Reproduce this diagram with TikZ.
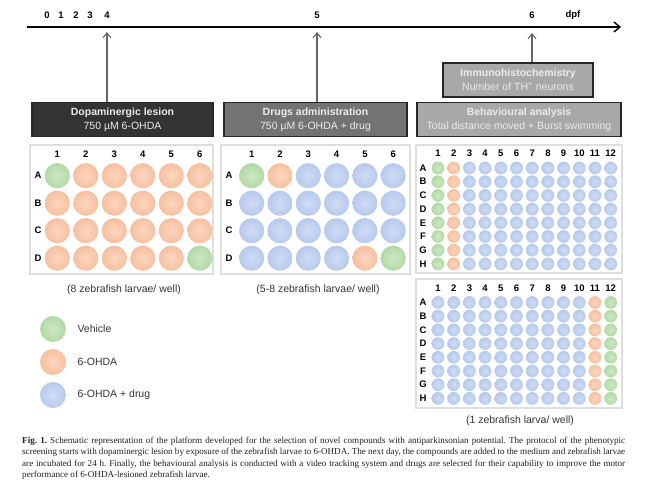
\documentclass[tikz,border=0pt]{standalone}
\usepackage{fontspec}
\setmainfont{Liberation Sans}
\newfontfamily\capfont{Liberation Serif}
\usetikzlibrary{arrows.meta,calc,positioning}

\definecolor{vehin}{HTML}{CDE8C4}
\definecolor{vehout}{HTML}{B3D9A6}
\definecolor{ohdain}{HTML}{FCD6BF}
\definecolor{ohdaout}{HTML}{F6C0A0}
\definecolor{drugin}{HTML}{D0DCF5}
\definecolor{drugout}{HTML}{B7C9EC}

\begin{document}
\begin{tikzpicture}[x=1pt,y=-1pt,font=\fontsize{10.5}{14}\selectfont]

\tikzset{
timeaxis/.style={line width=1.4pt,-{Straight Barb[length=6pt,width=10pt,line width=1.4pt]}},
dayarrow/.style={draw=black!60,line width=1.3pt,-{Straight Barb[length=5pt,width=8pt,line width=1.1pt]}},
daylab/.style={font=\fontsize{9.5}{10}\selectfont\bfseries},
stepbox/.style={draw=black!85,line width=1.6pt,minimum height=34,inner sep=0pt,align=center,text=white!92!black},
plate/.style={draw=black!13,line width=1.6pt,fill=white},
platelab/.style={font=\fontsize{9.5}{10}\selectfont\bfseries},
vehicle/.style={inner color=vehin,outer color=vehout},
ohda/.style={inner color=ohdain,outer color=ohdaout},
drug/.style={inner color=drugin,outer color=drugout},
note/.style={font=\fontsize{10.5}{12}\selectfont,text=black!80}
}

\useasboundingbox (0,0) rectangle (650,491);

% Time line
\coordinate (tstart) at (27,27);
\coordinate (tend) at (621,27);
\draw[timeaxis] (tstart) -- (tend);

\node[daylab] (d0) at (47,15) {0};
\node[daylab] (d1) at (61,15) {1};
\node[daylab] (d2) at (76,15) {2};
\node[daylab] (d3) at (90,15) {3};
\node[daylab] (d4) at (107,15) {4};
\node[daylab] (d5) at (317,15) {5};
\node[daylab] (d6) at (532,15) {6};
\node[daylab] (dpf) at (573,15) {dpf};

\coordinate (t4) at (107,32);
\coordinate (t5) at (317,32);
\coordinate (t6) at (532,33);

% Steps
\node[stepbox,fill=black!80,minimum width=181] (lesion) at (122.5,119.5)
  {\textbf{Dopaminergic lesion}\\750 µM 6-OHDA};
\node[stepbox,fill=black!55,minimum width=183] (drugs) at (315.5,119.5)
  {\textbf{Drugs administration}\\750 µM 6-OHDA + drug};
\node[stepbox,fill=black!34,minimum width=204] (behav) at (519,119.5)
  {\textbf{Behavioural analysis}\\Total distance moved + Burst swimming};
\node[stepbox,fill=black!34,minimum width=150] (immuno) at (518,80)
  {\textbf{Immunohistochemistry}\\Number of TH\textsuperscript{+} neurons};

% Arrows
\draw[dayarrow] (lesion.north -| t4) -- (t4);
\draw[dayarrow] (drugs.north -| t5) -- (t5);
\draw[dayarrow] (immuno.north -| t6) -- (t6);

% Plates
\draw[plate] (30,145) rectangle (213,274);
\draw[plate] (221,145) rectangle (410,274);
\draw[plate] (416,145) rectangle (622,273);
\draw[plate] (416,279) rectangle (622,408);

% 24 well, lesion
\foreach \r/\R in {1/A,2/B,3/C,4/D}
  \node[platelab] (pal\R) at (38,{175.7+27.5*(\r-1)}) {\R};
\foreach \c in {1,...,6}{
  \node[platelab] (pac\c) at ({57.3+28.5*(\c-1)},154) {\c};
  \foreach \r in {1,...,4}{
    \def\well{ohda}
    \ifnum\c\r=11 \def\well{vehicle}\fi
    \ifnum\c\r=64 \def\well{vehicle}\fi
    \shade[\well] ({57.3+28.5*(\c-1)},{175.7+27.5*(\r-1)}) circle[radius=12.6];
  }
}

% 24 well, drugs
\foreach \r/\R in {1/A,2/B,3/C,4/D}
  \node[platelab] (pbl\R) at (229,{175.7+27.5*(\r-1)}) {\R};
\foreach \c in {1,...,6}{
  \node[platelab] (pbc\c) at ({251.7+28.3*(\c-1)},154) {\c};
  \foreach \r in {1,...,4}{
    \def\well{drug}
    \ifnum\c\r=11 \def\well{vehicle}\fi
    \ifnum\c\r=21 \def\well{ohda}\fi
    \ifnum\c\r=54 \def\well{ohda}\fi
    \ifnum\c\r=64 \def\well{vehicle}\fi
    \shade[\well] ({251.7+28.3*(\c-1)},{175.7+27.5*(\r-1)}) circle[radius=12.6];
  }
}

% 96 well, upper
\foreach \r/\R in {1/A,2/B,3/C,4/D,5/E,6/F,7/G,8/H}
  \node[platelab] (pcl\R) at (423,{168+13.7*(\r-1)}) {\R};
\foreach \c in {1,...,12}{
  \node[platelab] (pcc\c) at ({438+15.7*(\c-1)},153) {\c};
  \foreach \r in {1,...,8}{
    \def\well{drug}
    \ifnum\c=1 \def\well{vehicle}\fi
    \ifnum\c=2 \def\well{ohda}\fi
    \shade[\well] ({438+15.7*(\c-1)},{168+13.7*(\r-1)}) circle[radius=6.4];
  }
}

% 96 well, lower
\foreach \r/\R in {1/A,2/B,3/C,4/D,5/E,6/F,7/G,8/H}
  \node[platelab] (pdl\R) at (423,{302.5+13.7*(\r-1)}) {\R};
\foreach \c in {1,...,12}{
  \node[platelab] (pdc\c) at ({438+15.7*(\c-1)},288) {\c};
  \foreach \r in {1,...,8}{
    \def\well{drug}
    \ifnum\c=11 \def\well{ohda}\fi
    \ifnum\c=12 \def\well{vehicle}\fi
    \shade[\well] ({438+15.7*(\c-1)},{302.5+13.7*(\r-1)}) circle[radius=6.4];
  }
}

% Labels
\node[note] (larv8) at (124,290) {(8 zebrafish larvae/ well)};
\node[note] (larv58) at (318,290) {(5-8 zebrafish larvae/ well)};
\node[note] (larv1) at (520,421) {(1 zebrafish larva/ well)};

% Legend
\shade[vehicle] (53,329) circle[radius=13];
\shade[ohda] (53,362) circle[radius=13];
\shade[drug] (53,395) circle[radius=13];
\node[note,anchor=west] (legveh) at (74,329) {Vehicle};
\node[note,anchor=west] (legohda) at (74,362) {6-OHDA};
\node[note,anchor=west] (legdrug) at (74,395) {6-OHDA + drug};

% Caption
\node[anchor=north west,inner sep=0pt,text width=603,align=justify,text=black!88,
  font=\capfont\fontsize{9.1}{11.6}\selectfont\frenchspacing] (caption) at (22,436.5)
  {\textbf{Fig. 1.} Schematic representation of the platform developed for the selection of novel compounds with antiparkinsonian potential. The protocol of the phenotypic\linebreak
  screening starts with dopaminergic lesion by exposure of the zebrafish larvae to 6-OHDA. The next day, the compounds are added to the medium and zebrafish larvae\linebreak
  are incubated for 24 h. Finally, the behavioural analysis is conducted with a video tracking system and drugs are selected for their capability to improve the motor\linebreak
  performance of 6-OHDA-lesioned zebrafish larvae.};

\end{tikzpicture}
\end{document}
